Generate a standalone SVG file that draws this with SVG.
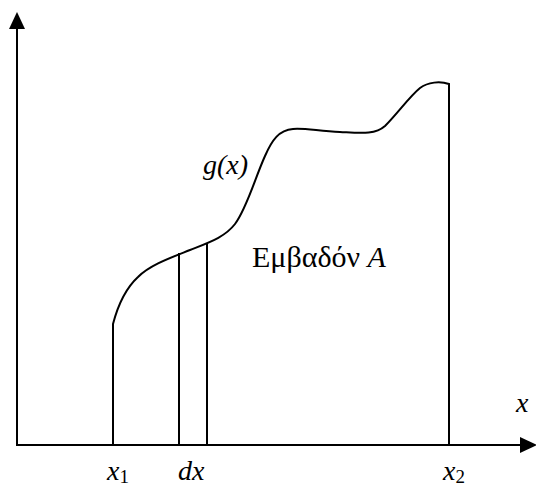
<svg xmlns="http://www.w3.org/2000/svg" width="536" height="488" viewBox="0 0 536 488">
<style>
.ln{stroke:#000;stroke-width:2;fill:none}
.i{font-style:italic}
</style>
<rect width="536" height="488" fill="#fff"/>
<g id="axes">
<line class="ln" x1="17" y1="445" x2="17" y2="26"/>
<polygon points="17,12 9,29 25,29" fill="#000"/>
<line class="ln" x1="16" y1="445" x2="522" y2="445"/>
<polygon points="537,445 520,437 520,453" fill="#000"/>
</g>
<g id="curve">
<path class="ln" d="M113,445 L113,324 C118,305 126,288 138,277 C150,265 170,258 190,250 C210,242 225,237 235,224 C247,208 255,178 265,156 C272,140 279,130 293,129 C305,128 318,131 340,132 C360,133 375,135 385,126 C397,114 410,96 420,88 C428,82 440,81 449,84 L449,445"/>
</g>
<g id="strip">
<line class="ln" x1="179" y1="253" x2="179" y2="445"/>
<line class="ln" x1="207" y1="243" x2="207" y2="445"/>
</g>
<g id="labels" font-family="Liberation Serif, serif" font-size="28" fill="#000">
<text class="i" x="203" y="174">g(x)</text>
<text x="252" y="267" font-size="30">Εμβαδόν <tspan class="i">A</tspan></text>
<text class="i" x="516" y="412">x</text>
<text class="i" x="107" y="480">x<tspan font-style="normal" font-size="19" dy="3">1</tspan></text>
<text class="i" x="178" y="480">dx</text>
<text class="i" x="443" y="480">x<tspan font-style="normal" font-size="19" dy="3">2</tspan></text>
</g>
</svg>
